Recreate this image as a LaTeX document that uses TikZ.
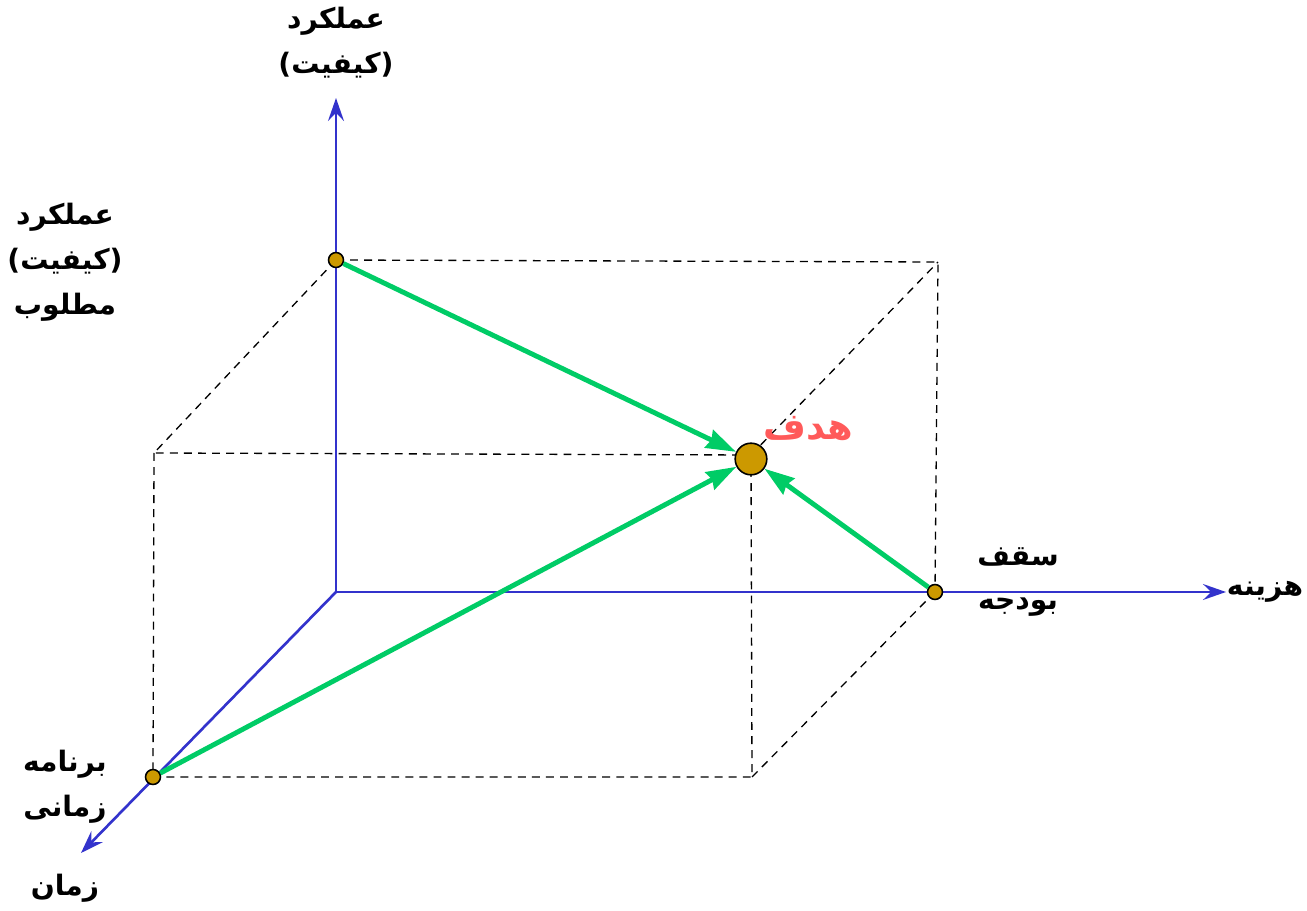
\documentclass[tikz,border=0pt]{standalone}
\usepackage{fontspec}
\newfontfamily\arabicfont[Script=Arabic]{DejaVu Sans}
\TeXXeTstate=1
\usetikzlibrary{arrows.meta}

\definecolor{axisblue}{RGB}{51,51,204}
\definecolor{arrgreen}{RGB}{0,204,102}
\definecolor{dotgold}{RGB}{204,153,0}
\definecolor{goalred}{RGB}{255,90,90}

\begin{document}
\begin{tikzpicture}[
  font=\arabicfont\bfseries\fontsize{16}{25.5}\selectfont,
  axis/.style={axisblue, line width=1.5pt,
               -{Stealth[length=13pt,width=9pt,inset=4.5pt]}},
  guide/.style={dashed, black, line width=0.75pt,
                dash pattern=on 4.5pt off 3.5pt},
  goalarr/.style={arrgreen, line width=2.8pt,
                  -{Stealth[length=17pt,width=11pt,inset=1.5pt]}},
  dot/.style={circle, draw=black, fill=dotgold, line width=0.9pt,
              minimum size=8.5pt, inner sep=0pt},
  bigdot/.style={dot, minimum size=18pt},
  lbl/.style={align=center, inner sep=1pt},
]

  \useasboundingbox (0,0) rectangle (26.14,-18.22);

  % --- Axes ---
  \coordinate (O)    at (6.72,-11.84);
  \coordinate (yend) at (6.72,-1.96);
  \coordinate (xend) at (24.52,-11.84);
  \coordinate (zend) at (1.62,-17.06);

  \draw[axis] (O) -- (yend);
  \draw[axis] (O) -- (xend);
  \draw[axis] (O) -- (zend);

  % --- Box corners ---
  \coordinate (cP) at (6.72,-5.20);
  \coordinate (cB) at (18.70,-11.84);
  \coordinate (cT) at (3.06,-15.54);
  \coordinate (cG) at (15.02,-9.10);
  \coordinate (cR) at (18.76,-5.24);
  \coordinate (cL) at (3.08,-9.06);
  \coordinate (cD) at (15.04,-15.54);

  % --- Dashed guides ---
  \draw[guide] (cP) -- (cR) -- (cB);
  \draw[guide] (cP) -- (cL) -- (cG);
  \draw[guide] (cL) -- (cT) -- (cD) -- (cG);
  \draw[guide] (cD) -- (cB);
  \draw[guide] (cG) -- (cR);

  % --- Points ---
  \node[dot] (perf)   at (cP) {};
  \node[dot] (budget) at (cB) {};
  \node[dot] (sched)  at (cT) {};
  \node[bigdot] (goal) at (15.02,-9.18) {};

  % --- Arrows to goal ---
  \draw[goalarr] (perf) -- (goal);
  \draw[goalarr] (sched) -- (goal);
  \draw[goalarr] (budget) -- (goal);

  % --- Labels ---
  \node[lbl] (ylbl) at (6.72,-0.86)
    {\beginR عملکرد\endR\\\beginR (کیفیت)\endR};
  \node[lbl] (plbl) at (1.30,-5.24)
    {\beginR عملکرد\endR\\\beginR (کیفیت)\endR\\\beginR مطلوب\endR};
  \node[lbl, text=goalred, font=\arabicfont\bfseries\fontsize{21}{24}\selectfont]
    (glbl) at (16.16,-8.58) {\beginR هدف\endR};
  \node[lbl] (blbl) at (20.36,-11.64)
    {\beginR سقف\endR\\\beginR بودجه\endR};
  \node[lbl] (xlbl) at (25.30,-11.84) {\beginR هزینه\endR};
  \node[lbl] (tlbl) at (1.30,-15.74)
    {\beginR برنامه\endR\\\beginR زمانی\endR};
  \node[lbl] (zlbl) at (1.30,-17.76) {\beginR زمان\endR};

\end{tikzpicture}
\end{document}
